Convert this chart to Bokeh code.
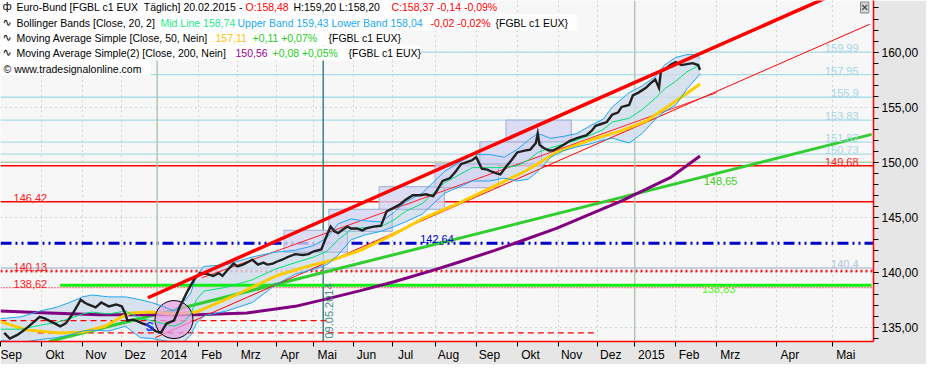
import math
from bokeh.plotting import figure
from bokeh.models import Range1d, LinearAxis, FixedTicker, Span, Label, BoxAnnotation, Grid
from bokeh.embed import file_html
from bokeh.resources import INLINE

# ---------------- data ----------------
month_idx = [0, 22, 44, 65, 84, 106, 127, 148, 168, 189, 210, 233, 255, 277, 299, 320, 340, 362, 384, 416, 446]
month_lab = ["Sep", "Okt", "Nov", "Dez", "2014", "Feb", "Mrz", "Apr", "Mai", "Jun", "Jul", "Aug",
             "Sep", "Okt", "Nov", "Dez", "2015", "Feb", "Mrz", "Apr", "Mai"]
year_idx = [84, 340]
price_ticks = [135, 140, 145, 150, 155, 160]
price_minor = list(range(134, 165))

px_day = [2, 5, 9, 12, 14, 17, 21, 24, 26, 29, 32, 35, 38, 41, 43, 45, 47, 51, 54, 58, 62, 65, 67, 68, 71, 74,
          76, 79, 83, 86, 89, 93, 96, 100, 104, 107, 111, 114, 117, 119, 122, 125, 127, 130, 133, 135, 138, 141,
          143, 146, 148, 151, 154, 158, 162, 165, 168, 172, 175, 177, 179, 181, 183, 186, 188, 191, 194, 196,
          200, 204, 207, 211, 214, 217, 221, 225, 228, 232, 234, 237, 241, 244, 247, 250, 253, 255, 258, 261,
          263, 266, 268, 271, 274, 277, 281, 284, 287, 288, 289, 291, 294, 296, 299, 302, 305, 309, 312, 314,
          317, 319, 322, 325, 328, 331, 333, 337, 339, 342, 346, 348, 351, 353, 354, 356, 359, 362, 365, 368,
          371, 374, 375]
px_close = [134.51, 134.00, 134.33, 134.68, 134.94, 135.37, 135.97, 135.80, 135.63, 135.37, 135.11, 135.37,
            136.06, 136.92, 137.52, 137.27, 137.09, 136.83, 137.27, 136.92, 137.09, 136.92, 136.23, 135.63,
            135.71, 135.54, 135.37, 135.20, 134.68, 134.51, 135.37, 135.63, 136.83, 138.21, 139.42, 139.94,
            139.85, 139.68, 139.94, 139.68, 140.28, 140.80, 140.54, 140.71, 140.97, 141.15, 140.71, 140.89,
            140.71, 140.80, 140.97, 141.15, 141.40, 141.66, 141.58, 141.66, 141.92, 142.09, 143.39, 144.16,
            143.73, 143.56, 143.82, 144.16, 143.99, 143.99, 143.82, 143.99, 144.16, 144.25, 145.54, 145.89,
            146.15, 146.58, 147.01, 147.01, 147.09, 146.92, 147.44, 148.30, 148.56, 149.16, 149.85, 150.02,
            150.20, 150.46, 149.42, 149.33, 149.16, 148.99, 148.90, 149.59, 150.20, 150.89, 151.06, 151.15,
            151.75, 152.61, 151.58, 151.32, 151.06, 151.06, 151.32, 151.58, 151.92, 152.18, 152.35, 152.44,
            152.87, 153.30, 153.47, 153.65, 154.33, 154.51, 155.02, 155.20, 156.06, 156.32, 156.75, 157.09,
            157.52, 156.75, 158.21, 158.39, 158.82, 159.08, 158.82, 158.90, 158.99, 158.82, 158.37]

bb_day = [0, 11, 21, 30, 37, 44, 49, 58, 67, 75, 81, 87, 93, 98, 102, 105, 109, 121, 135, 147, 158, 168, 175,
          181, 188, 195, 204, 211, 217, 226, 238, 253, 262, 270, 277, 283, 288, 295, 302, 309, 316, 323, 328,
          337, 344, 351, 356, 362, 368, 373, 375]
bb_upper = [135.80, 135.97, 136.49, 136.83, 137.27, 137.78, 137.95, 137.78, 137.78, 137.52, 137.27, 136.92,
            136.49, 137.27, 138.13, 139.68, 140.54, 140.71, 141.40, 141.83, 142.01, 142.44, 143.13, 144.42,
            144.85, 144.68, 144.59, 145.46, 146.40, 147.18, 149.16, 150.71, 150.71, 150.46, 151.15, 152.01,
            152.61, 152.18, 152.35, 152.61, 153.30, 153.90, 155.02, 156.32, 156.92, 157.78, 158.82, 159.51,
            159.77, 159.77, 159.43]
bb_lower = [133.82, 133.64, 133.90, 134.08, 134.33, 134.68, 134.77, 134.68, 135.11, 134.08, 134.00, 133.82,
            133.64, 133.64, 134.33, 135.37, 136.06, 136.49, 137.27, 138.82, 139.85, 140.28, 140.71, 141.58,
            142.96, 143.39, 143.73, 144.16, 144.59, 145.28, 147.18, 148.30, 148.30, 148.56, 148.30, 148.47,
            149.16, 150.46, 151.06, 151.40, 151.66, 152.01, 152.18, 151.75, 152.61, 153.90, 154.59, 155.20,
            156.66, 157.61, 158.04]
bb_mid = [134.85, 134.85, 135.20, 135.46, 135.80, 136.23, 136.40, 136.23, 136.49, 135.80, 135.63, 135.37,
          135.11, 135.46, 136.23, 137.52, 138.30, 138.65, 139.33, 140.28, 140.89, 141.40, 141.92, 142.96,
          143.90, 144.08, 144.16, 144.77, 145.54, 146.23, 148.13, 149.51, 149.51, 149.51, 149.68, 150.20,
          150.89, 151.32, 151.66, 152.01, 152.44, 152.96, 153.65, 153.99, 154.77, 155.80, 156.66, 157.35,
          158.21, 158.65, 158.74]

ma50_day = [0, 14, 32, 44, 56, 65, 70, 81, 91, 105, 126, 149, 168, 175, 193, 211, 226, 246, 263, 281, 298,
            316, 333, 346, 359, 375]
ma50 = [135.54, 134.77, 134.51, 134.59, 135.11, 135.97, 136.32, 136.40, 136.23, 136.40, 137.95, 139.77,
        140.71, 140.97, 142.01, 143.47, 144.85, 146.32, 147.70, 149.16, 150.89, 152.01, 152.87, 153.73,
        155.20, 157.11]
ma200_day = [0, 26, 53, 79, 105, 132, 158, 175, 193, 211, 233, 246, 265, 275, 298, 333, 359, 375]
ma200 = [136.49, 136.32, 136.15, 136.15, 136.15, 136.32, 136.92, 137.60, 138.35, 139.15, 140.25, 140.95,
         142.00, 142.60, 144.00, 146.50, 148.60, 150.56]

box_left = [152, 176, 203, 233, 257, 271]
box_right = [186, 210, 238, 267, 290, 306]
box_bottom = [141.84, 143.73, 145.72, 147.70, 149.85, 151.84]
box_top = [143.82, 145.72, 147.78, 149.85, 151.84, 153.82]

trend_red_day, trend_red = [79, 468], [137.70, 166.82]
trend_red_lo_day, trend_red_lo = [83, 466], [134.08, 162.53]
trend_red_mid_day, trend_red_mid = [108, 384], [139.51, 156.32]
trend_green_day, trend_green = [26, 467], [133.73, 152.53]
trend_green_mark = 148.65

fib_levels = [159.99, 157.95, 155.9, 153.83, 151.82, 150.73]
round_level = 150.0
red_levels = [149.68, 146.42]
blue_level = 142.64
gray_level = 140.4
red_dot_thick = 140.13
red_dot_thin = 138.62
green_level, green_from, green_to = 138.83, 32, 467
dash_levels = [135.63, 134.51]
dash_from = [0, 20]
dash_to = [175, 320]
event_day, event_text = 173, "09.05.2014"
circle_day, circle_price = 93, 135.72
signal_day, signal_price = 80, 135.11
last_close = 158.37


def de(v, nd=None):
    s = f"{v:.{nd}f}" if nd is not None else f"{v:g}"
    return s.replace(".", ",")


# ---------------- figure ----------------
W, H = 926, 364
RW, BH = 53, 22
FW, FH = W - RW, H - BH
FONT = "Liberation Sans"

p = figure(width=W, height=H, output_backend="svg", toolbar_location=None,
           x_range=Range1d(0, 468), y_range=Range1d(133.73, 164.68),
           x_axis_type=None, y_axis_type=None,
           min_border_left=0, min_border_top=0, min_border_right=RW, min_border_bottom=BH)
p.background_fill_color = "#f7f7f7"
p.border_fill_color = "#e6e6e6"
p.outline_line_color = None

# gradient backgrounds of the axis areas
for i in range(12):
    g = int(248 - i * 5.5)
    p.add_layout(BoxAnnotation(left=FW + i * RW / 12, right=FW + (i + 1) * RW / 12, top=FH, bottom=-BH,
                               left_units="screen", right_units="screen", top_units="screen",
                               bottom_units="screen", fill_color=f"#{g:02x}{g:02x}{g:02x}", fill_alpha=1,
                               line_color=None, level="underlay"))
for i in range(6):
    g = int(222 + i * 4)
    p.add_layout(BoxAnnotation(left=0, right=FW, top=-i * BH / 6, bottom=-(i + 1) * BH / 6,
                               left_units="screen", right_units="screen", top_units="screen",
                               bottom_units="screen", fill_color=f"#{g:02x}{g:02x}{g:02x}", fill_alpha=1,
                               line_color=None, level="underlay"))

# axes
yax = LinearAxis(ticker=FixedTicker(ticks=price_ticks, minor_ticks=price_minor))
yax.major_label_overrides = {t: de(t, 2) for t in price_ticks}
yax.axis_line_color = "red"
yax.axis_line_width = 1.5
yax.major_tick_in = 0
yax.major_tick_out = 5
yax.minor_tick_in = 0
yax.minor_tick_out = 5
yax.major_label_standoff = 3
yax.major_label_text_font = FONT
yax.major_label_text_font_size = "12px"
yax.major_label_text_color = "black"
p.add_layout(yax, "right")

xax = LinearAxis(ticker=FixedTicker(ticks=month_idx, minor_ticks=[]))
xax.major_label_overrides = {t: ("\u00a0" * (2 * len(l) + 2) if t > 0 else "") + l
                             for t, l in zip(month_idx, month_lab)}
xax.axis_line_color = "red"
xax.axis_line_width = 1.5
xax.major_tick_in = 0
xax.major_tick_out = 5
xax.major_label_standoff = 1
xax.major_label_text_font = FONT
xax.major_label_text_font_size = "12px"
xax.major_label_text_color = "black"
p.add_layout(xax, "below")

# grids
p.add_layout(Grid(dimension=1, ticker=FixedTicker(ticks=price_ticks), grid_line_color="#9cb79c",
                  grid_line_dash="1 4", grid_line_width=1))
p.add_layout(Grid(dimension=0, ticker=FixedTicker(ticks=[t for t in month_idx if t not in year_idx]),
                  grid_line_color="#9cb79c", grid_line_dash="1 4", grid_line_width=1))

# horizontal / vertical levels
def hspan(v, color, width=1.0, dash="solid"):
    p.add_layout(Span(location=v, dimension="width", line_color=color, line_width=width,
                      line_dash=dash, level="underlay"))

for v in fib_levels:
    hspan(v, "#a9dde6", 1.3)
hspan(round_level, "#b9cbb0", 1.3)
for v in red_levels:
    hspan(v, "#ff0000", 1.5)
hspan(gray_level, "#b4c4dc", 1.3)
hspan(blue_level, "#0000cc", 3, "11 4 2 4 2 4")
hspan(red_dot_thick, "#ff1010", 2.5, "2 3")
hspan(red_dot_thin, "#ff1010", 1.2, "1 2")
for d in year_idx:
    p.add_layout(Span(location=d, dimension="height", line_color="#b4c6b4", line_width=1.5, level="underlay"))
p.add_layout(Span(location=event_day, dimension="height", line_color="#3d8282", line_width=1.5,
                  level="underlay"))

# chart glyphs
p.varea(x=bb_day, y1=bb_lower, y2=bb_upper, fill_color="#d0dcec", fill_alpha=0.8)
p.quad(left=box_left, right=box_right, bottom=box_bottom, top=box_top, fill_color="#d5d5f3",
       fill_alpha=0.8, line_color="#a9b9d9", line_width=1.2)
for lv, a, b in zip(dash_levels, dash_from, dash_to):
    p.line(x=[a, b], y=[lv, lv], line_color="#ff0000", line_width=1.2, line_dash="6 4")
p.line(x=[green_from, green_to], y=[green_level, green_level], line_color="#11ee11", line_width=3)
p.line(x=trend_green_day, y=trend_green, line_color="#33cc33", line_width=3)
p.line(x=ma200_day, y=ma200, line_color="#800080", line_width=3)
p.line(x=trend_red_lo_day, y=trend_red_lo, line_color="#ff0000", line_width=1)
p.line(x=trend_red_mid_day, y=trend_red_mid, line_color="#ff2020", line_width=1)
p.line(x=ma50_day, y=ma50, line_color="#ffcc00", line_width=3)
p.scatter(x=[circle_day], y=[circle_price], size=38, marker="circle", fill_color="#e6a3e6",
          fill_alpha=0.75, line_color="black", line_width=1)
p.line(x=bb_day, y=bb_upper, line_color="#1ea5f0", line_width=1)
p.line(x=bb_day, y=bb_lower, line_color="#1ea5f0", line_width=1)
p.line(x=bb_day, y=bb_mid, line_color="#00e070", line_width=1)
p.line(x=px_day, y=px_close, line_color="#202020", line_width=2.4, line_join="miter")
p.line(x=trend_red_day, y=trend_red, line_color="#ff0000", line_width=3.5)

# level labels
def lab(x, y, text, color, align="left", base="bottom", size="11px", **kw):
    p.add_layout(Label(x=x, y=y, text=text, text_color=color, text_align=align, text_baseline=base,
                       text_font=FONT, text_font_size=size, **kw))

for v in fib_levels:
    lab(460, v, de(v), "#a6d6e6", "right")
lab(460, red_levels[0], de(red_levels[0]), "#ff2020", "right")
lab(7, red_levels[1], de(red_levels[1]), "#ff2020")
lab(225, blue_level, de(blue_level), "#0000cc")
lab(7, red_dot_thick, de(red_dot_thick), "#ff2020")
lab(7, red_dot_thin, de(red_dot_thin), "#ff2020")
lab(460, gray_level, de(gray_level), "#b4c4dc", "right")
lab(376, green_level, de(green_level), "#55ee22", base="top")
lab(377, trend_green_mark, de(trend_green_mark), "#44cc22", base="top")
lab(event_day, 134.0, event_text, "#4a8c8c", base="top", angle=math.pi / 2, x_offset=2)
lab(signal_day, signal_price, "S", "#2040ff", "center", "middle", "13px", text_font_style="bold")

# legend block
bg_rows = [(0, 15, 492), (15, 31, 576), (31, 46, 400), (46, 61, 420), (61, 76, 150)]
for top, bot, right in bg_rows:
    p.add_layout(BoxAnnotation(left=0, right=right, top=FH - top, bottom=FH - bot, left_units="screen",
                               right_units="screen", top_units="screen", bottom_units="screen",
                               fill_color="white", fill_alpha=1, line_color=None))

legend = [
    (7, [(16, "Euro-Bund [FGBL c1 EUX\u00a0 Täglich] 20.02.2015 -", "#000000"),
         (245, "O:158,48", "#ff0000"), (293, "H:159,20 L:158,20", "#000000"),
         (391, "C:158,37 -0,14 -0,09%", "#ff0000")]),
    (23, [(16, "Bollinger Bands [Close, 20, 2]", "#000000"), (160, "Mid Line 158,74", "#22ee88"),
          (237, "Upper Band 159,43 Lower Band 158,04", "#22aaee"), (430, "-0,02 -0,02%", "#ff0000"),
          (495, "{FGBL c1 EUX}", "#000000")]),
    (38, [(16, "Moving Average Simple [Close, 50, Nein]", "#000000"), (215, "157,11", "#ffc000"),
          (252, "+0,11 +0,07%", "#22cc22"), (328, "{FGBL c1 EUX}", "#000000")]),
    (53, [(16, "Moving Average Simple(2) [Close, 200, Nein]", "#000000"), (235, "150,56", "#990099"),
          (272, "+0,08 +0,05%", "#22cc22"), (348, "{FGBL c1 EUX}", "#000000")]),
    (69, [(3, "© www.tradesignalonline.com", "#000000")]),
]
icons = {7: "ф", 23: "∿", 38: "∿", 53: "∿"}
for cy, segs in legend:
    if cy in icons:
        p.add_layout(Label(x=2, y=FH - cy, x_units="screen", y_units="screen", text=icons[cy],
                           text_color="black", text_font="DejaVu Sans", text_font_size="11px",
                           text_baseline="middle"))
    for sx, txt, col in segs:
        p.add_layout(Label(x=sx, y=FH - cy, x_units="screen", y_units="screen", text=txt,
                           text_color=col, text_font=FONT, text_font_size="10.5px",
                           text_baseline="middle"))

# right-axis decorations
p.add_layout(Label(x=FW + 4, y=FH - 8, x_units="screen", y_units="screen", text="€/EUR",
                   text_color="black", text_font=FONT, text_font_size="12px", text_baseline="middle"))
p.add_layout(Label(x=FW + 42, y=FH - 6, x_units="screen", y_units="screen", text="▾",
                   text_color="black", text_font="DejaVu Sans", text_font_size="9px", text_baseline="middle"))
p.add_layout(Label(x=FW + 42, y=FH - 13, x_units="screen", y_units="screen", text="M",
                   text_color="black", text_font=FONT, text_font_size="8px", text_baseline="middle"))
p.add_layout(Label(x=FW + 8, y=last_close, x_units="screen", y_units="data", text=de(last_close, 2),
                   text_color="black", text_font=FONT, text_font_size="12px", text_baseline="middle",
                   background_fill_color="white", border_line_color="black", border_line_width=1))
p.add_layout(Label(x=FW - 13, y=FH - 8, x_units="screen", y_units="screen", text="✕",
                   text_color="#333333", text_font="DejaVu Sans", text_font_size="10px",
                   text_baseline="middle", background_fill_color="#d4d4d4", border_line_color="#888888"))
for k, ic in enumerate(["↔", "↔", "∿"]):
    p.add_layout(Label(x=FW + 3 + 17 * k, y=-BH + 4, x_units="screen", y_units="screen", text=ic,
                       text_color="black", text_font="DejaVu Sans", text_font_size="10px",
                       text_baseline="bottom", background_fill_color="#f4f4f4",
                       border_line_color="#999999"))

open("out.html", "w").write(file_html(p, INLINE))
